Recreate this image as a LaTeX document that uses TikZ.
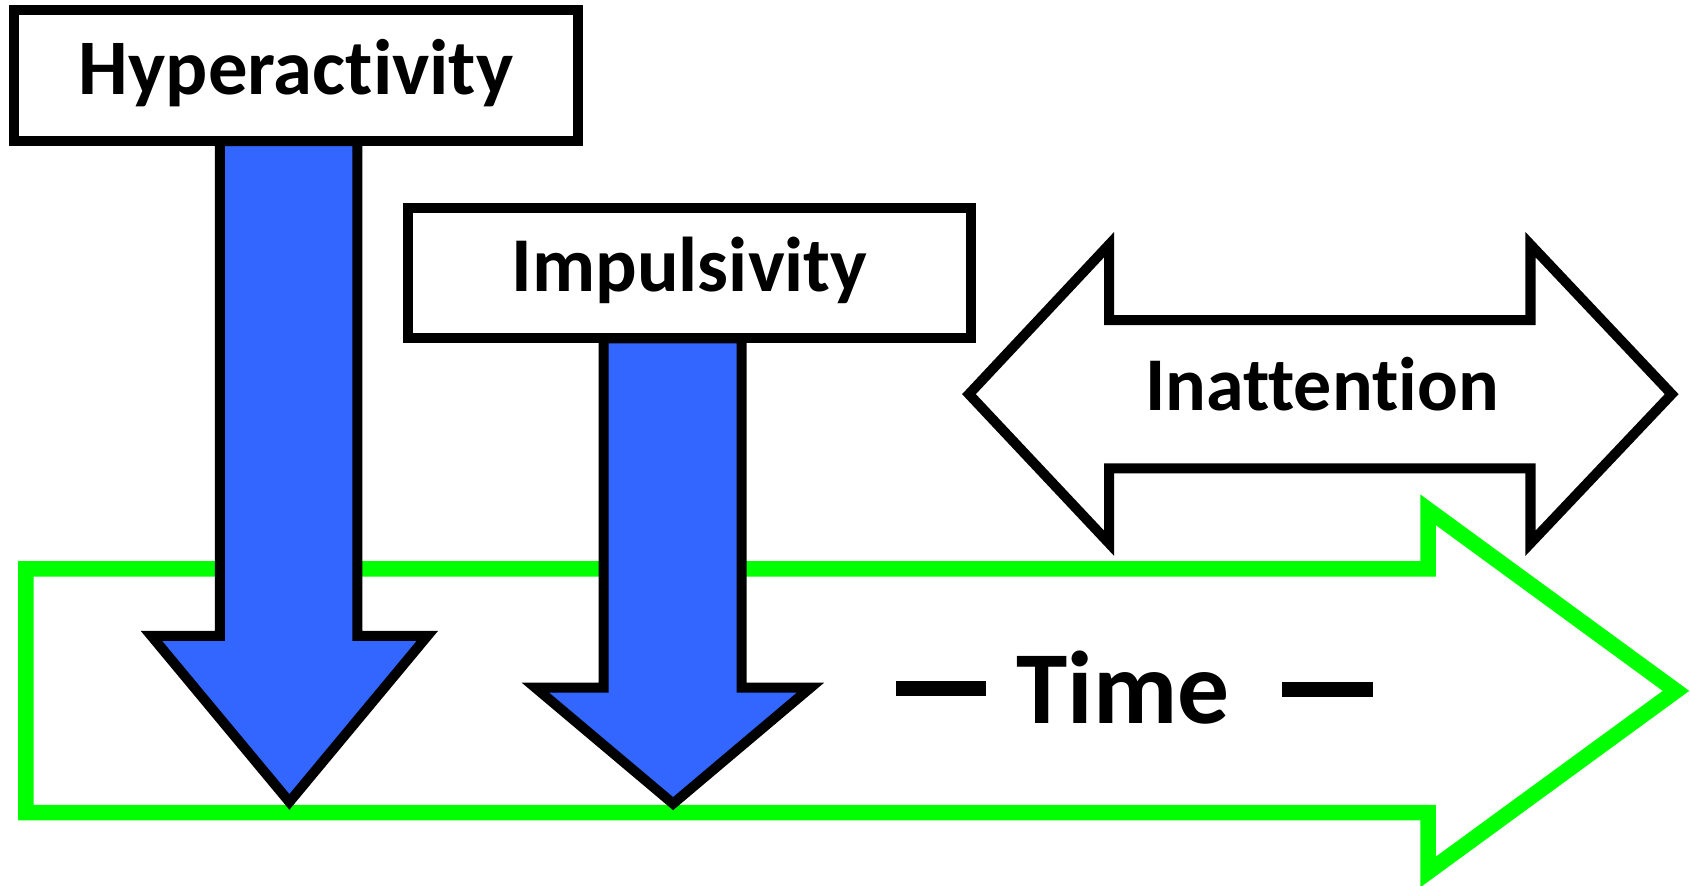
\documentclass[tikz,border=0pt]{standalone}
\usepackage{fontspec}
\setmainfont{Carlito}[Ligatures={NoCommon,NoContextual}]
\definecolor{arrowblue}{HTML}{3366FF}
\definecolor{timegreen}{HTML}{00FF00}
\begin{document}
\begin{tikzpicture}[x=1pt,y=-1pt,line join=miter,
  labelbox/.style={draw=black,line width=9.3pt,fill=white,inner sep=0pt,font=\bfseries\fontsize{73}{80}\selectfont},
  bluearrow/.style={draw=black,line width=9.3pt,fill=arrowblue},
  whitearrow/.style={draw=black,line width=9.3pt,fill=white},
  greenarrow/.style={draw=timegreen,line width=14.5pt,fill=white},
  bigtext/.style={inner sep=0pt,font=\bfseries\fontsize{#1}{#1}\selectfont}]
\useasboundingbox (0,0) rectangle (1568,822);

% Time arrow
\draw[greenarrow] (24,527.8) -- (1325,527.8) -- (1325,473) -- (1555,641) -- (1325,809) -- (1325,754) -- (24,754) -- cycle;
\node[bigtext=96,anchor=base west] (time) at (831,671)
  {\rule[25pt]{84pt}{14.5pt}\hspace{28pt}Time\hspace{49pt}\rule[24pt]{84pt}{14.5pt}};

% Inattention double arrow
\draw[whitearrow] (899,365.7) -- (1029,227) -- (1029,297) -- (1420,297) -- (1420,227) -- (1551,365.7)
  -- (1420,504) -- (1420,434.5) -- (1029,434.5) -- (1029,504) -- cycle;
\node[bigtext=70.5,anchor=base] (inatt) at (1226.5,381) {Inattention};

% Boxes
\node[labelbox,minimum width=523.5pt,minimum height=121.7pt,text height=48pt,text depth=12.3pt] (hyp) at (274.75,70.15) {Hyperactivity};
\node[labelbox,minimum width=522.5pt,minimum height=121pt,text height=47pt,text depth=12.8pt,font=\bfseries\fontsize{72}{80}\selectfont] (imp) at (639.75,253.5) {Impulsivity};

% Blue arrows
\draw[bluearrow] (204,131) -- (331.5,131) -- (331.5,590) -- (396.5,590) -- (268.5,744) -- (140.5,590) -- (204,590) -- cycle;
\draw[bluearrow] (560,314) -- (688,314) -- (688,638) -- (752,638) -- (624.5,745.6) -- (496.7,638) -- (560,638) -- cycle;
\end{tikzpicture}
\end{document}
